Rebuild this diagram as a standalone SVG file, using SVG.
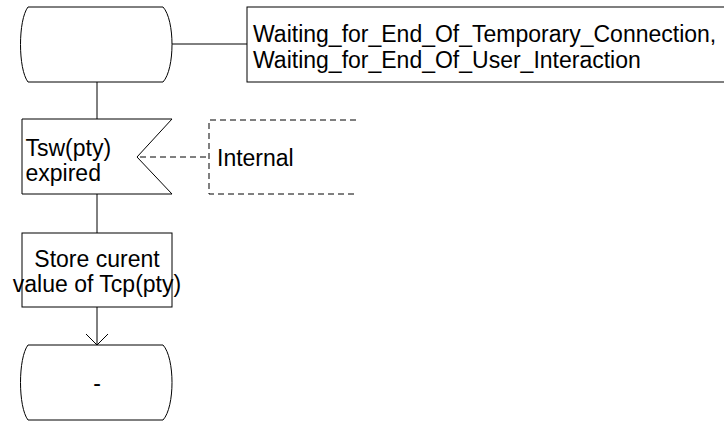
<svg xmlns="http://www.w3.org/2000/svg" width="724" height="421" viewBox="0 0 724 421">
<style>
.s{fill:#fff;stroke:#000;stroke-width:1}
.l{fill:none;stroke:#000;stroke-width:1}
.d{fill:none;stroke:#000;stroke-width:1;stroke-dasharray:6,4}
text{font-family:"Liberation Sans",Arial,sans-serif;font-size:23px;fill:#000}
</style>
<rect width="724" height="421" fill="#fff"/>
<g id="connectors">
<line class="l" x1="172" y1="44" x2="247" y2="44"/>
<line class="l" x1="97" y1="82" x2="97" y2="119"/>
<line class="d" x1="140" y1="157" x2="209" y2="157"/>
<line class="l" x1="97" y1="194" x2="97" y2="233"/>
<line class="l" x1="97" y1="307" x2="97" y2="345"/>
<polyline class="l" points="86,334 97,345 108,334"/>
</g>
<g id="state1">
<path class="s" d="M28,7 H163 C175,20 175,69 163,82 H28 C18,69 18,20 28,7 Z"/>
</g>
<g id="comment1">
<rect class="s" x="247" y="7" width="490" height="75"/>
<text x="253" y="41.5">Waiting_for_End_Of_Temporary_Connection,</text>
<text x="253" y="67.5">Waiting_for_End_Of_User_Interaction</text>
</g>
<g id="timer">
<path class="s" d="M22,119 H172 L137,157 L172,194 H22 Z"/>
<text x="25.5" y="155.5">Tsw(pty)</text>
<text x="25.5" y="181">expired</text>
</g>
<g id="internal">
<polyline class="d" points="356,120 209,120 209,194 356,194"/>
<text x="217" y="166">Internal</text>
</g>
<g id="task">
<rect class="s" x="22" y="233" width="150" height="74"/>
<text x="97" y="266.5" text-anchor="middle">Store curent</text>
<text x="97" y="292" text-anchor="middle">value of Tcp(pty)</text>
</g>
<g id="state2">
<path class="s" d="M28,345 H163 C175,358 175,407 163,420 H28 C18,407 18,358 28,345 Z"/>
<text x="97" y="391" text-anchor="middle">-</text>
</g>
</svg>
